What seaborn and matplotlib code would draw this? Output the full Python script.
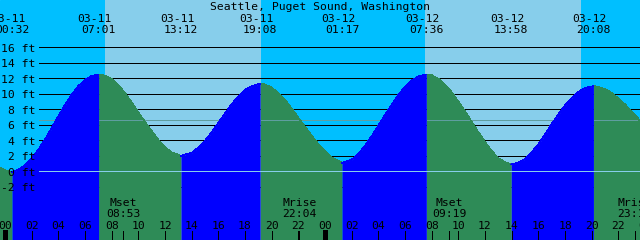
import numpy as np
import pandas as pd
import matplotlib
matplotlib.use("Agg")
import matplotlib.pyplot as plt
import seaborn as sns
from matplotlib.transforms import blended_transform_factory

# ---------------- data ----------------
station = "Seattle, Puget Sound, Washington"

# tide height (ft), hours from 03-11 00:00
hours = [-1, -0.5, 0, 0.53, 1, 1.5, 2, 2.5, 3, 3.5, 4, 4.5, 5, 5.5, 6, 6.5, 7.02,
         7.5, 8, 8.5, 9, 9.5, 10, 10.5, 11, 11.5, 12, 12.5, 13.2,
         14, 14.5, 15, 15.5, 16, 16.5, 17, 17.5, 18, 18.5, 19.13,
         19.5, 20, 20.5, 21, 21.5, 22, 22.5, 23, 23.5, 24, 24.5, 25.28,
         26, 26.5, 27, 27.5, 28, 28.5, 29, 29.5, 30, 30.5, 31, 31.6,
         32, 32.5, 33, 33.5, 34, 34.5, 35, 35.5, 36, 36.5, 37, 37.5, 37.97,
         38.5, 39, 39.5, 40, 40.5, 41, 41.5, 42, 42.5, 43, 43.5, 44.13,
         44.5, 45, 45.5, 46, 46.5, 47, 47.5, 48]
heights = [1.4, 0.6, 0.15, -0.1, 0.2, 0.78, 1.7, 2.79, 4.1, 5.58, 7.1, 8.57, 9.9, 11.0, 11.8, 12.3, 12.5,
           12.35, 11.9, 11.12, 10.1, 8.9, 7.6, 6.37, 5.2, 4.05, 3.1, 2.45, 2.0,
           2.4, 3.06, 3.95, 5.05, 6.25, 7.48, 8.65, 9.67, 10.5, 11.0, 11.3,
           11.2, 10.8, 10.12, 9.2, 8.11, 6.9, 5.74, 4.6, 3.52, 2.6, 1.75, 1.1,
           1.5, 2.26, 3.3, 4.53, 5.9, 7.26, 8.6, 9.85, 10.9, 11.72, 12.25, 12.5,
           12.4, 11.96, 11.2, 10.21, 9.0, 7.73, 6.4, 5.05, 3.8, 2.62, 1.7, 1.2, 0.9,
           1.1, 1.6, 2.44, 3.5, 4.76, 6.1, 7.34, 8.5, 9.48, 10.25, 10.75, 11.0,
           10.9, 10.6, 10.13, 9.4, 8.63, 7.7, 6.77, 5.8]

extreme_dates = ["03-11", "03-11", "03-11", "03-11", "03-12", "03-12", "03-12", "03-12"]
extreme_times = ["00:32", "07:01", "13:12", "19:08", "01:17", "07:36", "13:58", "20:08"]

moon_events = ["Mset", "Mrise", "Mset", "Mrise"]
moon_dates = ["03-11", "03-11", "03-12", "03-12"]
moon_times = ["08:53", "22:04", "09:19", "23:14"]

sunrise_hours = [7.5, 31.5]
sunset_hours = [19.2, 43.2]

ytick_ft = [16, 14, 12, 10, 8, 6, 4, 2, 0, -2]
hour_ticks = list(range(0, 49, 2))
mean_level = 6.6

# ---------------- style ----------------
sns.set_style("white")
plt.rcParams["font.family"] = ["DejaVu Sans Mono", "DejaVu Sans"]
plt.rcParams["text.color"] = "black"
FS = 8.2

NIGHT = "#00BFFF"
DAY = "#87CEEB"
FLOOD = "#0000FF"
EBB = "#2E8B57"

W, H = 640, 240
PXH = 40 / 3.0          # pixels per hour
X0 = 5.0                # pixel of 03-11 00:00
PXF = 7.75              # pixels per foot
Y0 = 171.3              # pixel of 0 ft
LW1 = 0.72              # one pixel


def to_hours(date, hm):
    day = 0 if date == "03-11" else 24
    hh, mm = hm.split(":")
    return day + int(hh) + int(mm) / 60.0


def ypx(p):
    return 1 - p / H


fig = plt.figure(figsize=(6.4, 2.4), dpi=100)
ax = fig.add_axes([0, 0, 1, 1])
xmin, xmax = -X0 / PXH, (W - X0) / PXH
ytop, ybot = Y0 / PXF, -(H - Y0) / PXF

ax.add_patch(plt.Rectangle((xmin, ybot), xmax - xmin, ytop - ybot, color=NIGHT, zorder=0))
for sr, ss in zip(sunrise_hours, sunset_hours):
    ax.axvspan(sr, ss, color=DAY, lw=0, zorder=0.5)

# grid lines (under water)
gx0 = xmin + 39 / PXH
ax.hlines(ytick_ft, gx0, xmax, colors="black", lw=LW1, zorder=1, antialiased=False)

# water fill split into flood / ebb runs
t = np.array(hours, dtype=float)
h = np.array(heights, dtype=float)
rising = np.diff(h) > 0
rows = []
start = 0
run = 0
for i in range(1, len(rising) + 1):
    if i == len(rising) or rising[i] != rising[start]:
        seg = slice(start, i + 1)
        phase = "flood" if rising[start] else "ebb"
        ax.fill_between(t[seg], h[seg], ybot - 1, color=FLOOD if rising[start] else EBB,
                        lw=0, antialiased=False, zorder=4 if rising[start] else 2)
        for tt, hh in zip(t[seg], h[seg]):
            rows.append({"hour": tt, "height": hh, "phase": phase, "run": run})
        run += 1
        start = i
df = pd.DataFrame(rows)

# mean sea level line (hidden by flood fill)
ax.hlines(mean_level, gx0, xmax, colors="#5F9EA0", lw=LW1, zorder=3, antialiased=False)

sns.lineplot(data=df, x="hour", y="height", hue="phase", units="run", estimator=None,
             palette={"flood": FLOOD, "ebb": EBB}, legend=False, lw=0.5, sort=False,
             antialiased=False, ax=ax, zorder=4.5)
ax.set_xlim(xmin, xmax)
ax.set_ylim(ybot, ytop)
ax.set_axis_off()

# datum line
ax.hlines(0, gx0, xmax, colors="#87CEEB", lw=LW1, zorder=5, antialiased=False)

# y labels
for v in ytick_ft:
    ax.text(35 / W, ypx(Y0 - v * PXF + 4.5), f"{v} ft", transform=ax.transAxes, fontsize=FS,
            ha="right", va="baseline", zorder=6, color="black")

tr = blended_transform_factory(ax.transData, ax.transAxes)

# title
ax.text(0.5, ypx(10), station, transform=ax.transAxes, fontsize=FS, ha="center",
        va="baseline", zorder=6, color="black")

# extreme labels
for d, tm in zip(extreme_dates, extreme_times):
    hx = to_hours(d, tm)
    ax.text(hx - 4 / PXH, ypx(21.7), d, transform=tr, fontsize=FS, ha="center",
            va="baseline", zorder=6, color="black")
    ax.text(hx, ypx(33.3), tm, transform=tr, fontsize=FS, ha="center",
            va="baseline", zorder=6, color="black")

# moon labels and ticks
tick_top = -(231 - Y0) / PXF
for ev, d, tm in zip(moon_events, moon_dates, moon_times):
    hx = to_hours(d, tm)
    ax.text(hx, ypx(206), ev, transform=tr, fontsize=FS, ha="center", va="baseline",
            zorder=6, color="black")
    ax.text(hx, ypx(217.3), tm, transform=tr, fontsize=FS, ha="center", va="baseline",
            zorder=6, color="black")
    ax.vlines(hx, ybot, tick_top, colors="black", lw=LW1, zorder=6, antialiased=False)

# hour ticks
for hr in hour_ticks:
    ax.text(hr, ypx(229.3), f"{hr % 24:02d}", transform=tr, fontsize=FS, ha="center",
            va="baseline", zorder=6, color="black")
    mid = hr % 24 == 0
    ax.vlines(hr, ybot, tick_top + (0.15 if mid else 0), colors="black",
              lw=2.2 if mid else LW1, zorder=6, antialiased=False)

fig.savefig("out.png", dpi=100)
